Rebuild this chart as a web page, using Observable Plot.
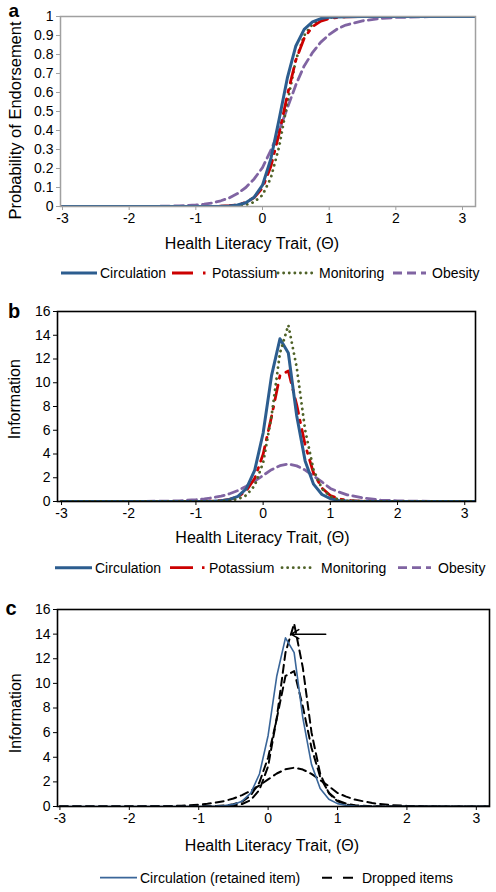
<!DOCTYPE html>
<html><head><meta charset="utf-8">
<script src="https://cdn.jsdelivr.net/npm/d3@7"></script>
<script src="https://cdn.jsdelivr.net/npm/@observablehq/plot@0.6"></script>
<style>
body{margin:0;background:#fff;}
#root{position:relative;width:496px;height:892px;overflow:hidden;background:#fff;}
.pan{position:absolute;left:0;}
#over{position:absolute;left:0;top:0;pointer-events:none;}
</style></head><body><div id="root"></div>
<script>
// ---- data ----
const theta = [-3, -2.5, -2, -1.5, -1.25, -1, -0.875, -0.75, -0.625, -0.5, -0.375, -0.25, -0.125, 0, 0.125, 0.25, 0.375, 0.5, 0.625, 0.75, 0.875, 1, 1.125, 1.25, 1.5, 1.75, 2, 2.5, 3, 3.2];

// Panel a: probability of endorsement
const circulationP = [0, 0, 0, 0, 0, 0.0001, 0.0002, 0.0005, 0.0012, 0.0031, 0.0078, 0.0198, 0.049, 0.112, 0.25, 0.46, 0.68, 0.845, 0.932, 0.972, 0.989, 0.996, 0.998, 0.999, 1, 1, 1, 1, 1, 1];
const potassiumP = [0, 0, 0, 0, 0, 0.0002, 0.0003, 0.0008, 0.0018, 0.0041, 0.0093, 0.0209, 0.047, 0.098, 0.21, 0.385, 0.59, 0.77, 0.885, 0.947, 0.976, 0.989, 0.995, 0.998, 1, 1, 1, 1, 1, 1];
const monitoringP = [0, 0, 0, 0, 0, 0, 0.0001, 0.0002, 0.0005, 0.0013, 0.0034, 0.0089, 0.0232, 0.06, 0.15, 0.315, 0.55, 0.77, 0.9, 0.96, 0.985, 0.994, 0.998, 0.999, 1, 1, 1, 1, 1, 1];
const obesityP = [0, 0, 0.0002, 0.0013, 0.003, 0.008, 0.012, 0.019, 0.03, 0.045, 0.068, 0.10, 0.145, 0.205, 0.295, 0.40, 0.52, 0.64, 0.74, 0.81, 0.865, 0.905, 0.935, 0.955, 0.977, 0.989, 0.995, 0.999, 1, 1];

// Panels b and c: item information
const circulationI = [0, 0, 0, 0, 0.001, 0.004, 0.01, 0.027, 0.068, 0.17, 0.435, 1.09, 2.64, 5.77, 10.6, 13.7, 12.5, 7.2, 3.42, 1.46, 0.59, 0.235, 0.092, 0.036, 0.006, 0.001, 0, 0, 0, 0];
const potassiumI = [0, 0, 0, 0, 0.001, 0.007, 0.015, 0.034, 0.078, 0.18, 0.40, 0.90, 1.96, 3.98, 7.15, 10.6, 11.0, 8.12, 4.77, 2.4, 1.125, 0.504, 0.223, 0.098, 0.019, 0.004, 0.001, 0, 0, 0];
const monitoringI = [0, 0, 0, 0, 0, 0.002, 0.004, 0.011, 0.03, 0.078, 0.204, 0.524, 1.35, 3.27, 7.2, 12.5, 14.85, 11.28, 6.02, 2.67, 1.08, 0.42, 0.162, 0.062, 0.009, 0.001, 0, 0, 0, 0];
const obesityI = [0, 0, 0.004, 0.025, 0.06, 0.15, 0.22, 0.32, 0.45, 0.65, 0.92, 1.28, 1.72, 2.2, 2.68, 3.02, 3.15, 3.0, 2.65, 2.15, 1.65, 1.1, 0.8, 0.56, 0.28, 0.12, 0.05, 0.01, 0, 0];

// ticks
const xTicks = [-3, -2, -1, 0, 1, 2, 3];
const yTicksProb = [0, 0.1, 0.2, 0.3, 0.4, 0.5, 0.6, 0.7, 0.8, 0.9, 1];
const yTicksInfo = [0, 2, 4, 6, 8, 10, 12, 14, 16];

// annotation arrow in panel c (data units)
const arrowC = [{x1: 0.83, y1: 14, x2: 0.33, y2: 14}];

// ---- drawing ----
const FONT = "Liberation Sans, Arial, Helvetica, sans-serif";
const COL = {circ: "#2C5D8F", pot: "#CC0000", mon: "#4F6228", obe: "#8064A2"};
const rows = ys => theta.map((t, i) => ({t, v: ys[i]}));
const fmt = d => String(d);

const styles = {
  circ: {stroke: COL.circ, strokeWidth: 3},
  pot: {stroke: COL.pot, strokeWidth: 2.8, strokeDasharray: "15,7,2.5,7"},
  mon: {stroke: COL.mon, strokeWidth: 2.8, strokeDasharray: "0.1,5.5", strokeLinecap: "round"},
  obe: {stroke: COL.obe, strokeWidth: 2.8, strokeDasharray: "9,5"}
};

function panel({top, height, mt, mb, ml, mr, xdom, ydom, yticks, frame, marks}) {
  const p = Plot.plot({
    width: 496, height,
    marginTop: mt, marginBottom: mb, marginLeft: ml, marginRight: mr,
    style: {fontSize: "14px", fontFamily: FONT, color: "#000", background: "transparent", overflow: "visible"},
    x: {domain: xdom},
    y: {domain: ydom},
    marks: [
      ...marks,
      Plot.frame({stroke: frame.stroke, strokeWidth: frame.width}),
      Plot.axisX(xTicks, {tickSize: 4, tickPadding: 3, tickFormat: fmt, label: null, stroke: frame.stroke, fontSize: 14, fill: "#000"}),
      Plot.axisY(yticks, {tickSize: 4, tickPadding: 3, tickFormat: fmt, label: null, stroke: frame.stroke, fontSize: 14, fill: "#000"})
    ]
  });
  const div = document.createElement("div");
  div.className = "pan";
  div.style.top = top + "px";
  div.appendChild(p);
  document.getElementById("root").appendChild(div);
}

const lineOpts = {x: "t", y: "v", clip: true};

// Panel a
panel({
  top: 0, height: 232, mt: 16, mb: 26, ml: 60, mr: 21,
  xdom: [-3.03, 3.195], ydom: [0, 1], yticks: yTicksProb,
  frame: {stroke: "#A0A0A0", width: 1.5},
  marks: [
    Plot.line(rows(obesityP), {...lineOpts, ...styles.obe}),
    Plot.line(rows(monitoringP), {...lineOpts, ...styles.mon}),
    Plot.line(rows(potassiumP), {...lineOpts, ...styles.pot}),
    Plot.line(rows(circulationP), {...lineOpts, ...styles.circ})
  ]
});

// Panel b
panel({
  top: 290, height: 236, mt: 21, mb: 25, ml: 57, mr: 21,
  xdom: [-3.06, 3.16], ydom: [0, 16], yticks: yTicksInfo,
  frame: {stroke: "#000", width: 1.6},
  marks: [
    Plot.line(rows(obesityI), {...lineOpts, ...styles.obe}),
    Plot.line(rows(potassiumI), {...lineOpts, ...styles.pot}),
    Plot.line(rows(circulationI), {...lineOpts, ...styles.circ}),
    Plot.line(rows(monitoringI), {...lineOpts, ...styles.mon})
  ]
});

// Panel c
const dropped = {stroke: "#000", strokeWidth: 2, strokeDasharray: "8,5"};
panel({
  top: 580, height: 252, mt: 29, mb: 26, ml: 57, mr: 7,
  xdom: [-3.035, 3.19], ydom: [0, 16], yticks: yTicksInfo,
  frame: {stroke: "#000", width: 1.6},
  marks: [
    Plot.line(rows(potassiumI), {...lineOpts, ...dropped}),
    Plot.line(rows(monitoringI), {...lineOpts, ...dropped}),
    Plot.line(rows(obesityI), {...lineOpts, ...dropped}),
    Plot.line(rows(circulationI), {...lineOpts, stroke: "#3A6699", strokeWidth: 1.6}),
    Plot.arrow(arrowC, {x1: "x1", y1: "y1", x2: "x2", y2: "y2", stroke: "#000", strokeWidth: 1.5, headLength: 9})
  ]
});

// ---- titles, panel letters and legends (text overlay) ----
const NS = "http://www.w3.org/2000/svg";
const over = document.createElementNS(NS, "svg");
over.setAttribute("id", "over");
over.setAttribute("width", 496);
over.setAttribute("height", 892);
over.style.fontFamily = FONT;
document.getElementById("root").appendChild(over);
function txt(s, x, y, o = {}) {
  const t = document.createElementNS(NS, "text");
  t.textContent = s;
  t.setAttribute("x", o.rotate ? 0 : x);
  t.setAttribute("y", o.rotate ? 0 : y);
  if (o.rotate) t.setAttribute("transform", `translate(${x},${y}) rotate(-90)`);
  t.setAttribute("font-size", o.size || 14);
  t.setAttribute("text-anchor", o.anchor || "start");
  if (o.bold) t.setAttribute("font-weight", "bold");
  t.setAttribute("fill", "#000");
  over.appendChild(t);
}
function seg(x1, x2, y, st) {
  const l = document.createElementNS(NS, "line");
  l.setAttribute("x1", x1); l.setAttribute("x2", x2);
  l.setAttribute("y1", y); l.setAttribute("y2", y);
  l.setAttribute("stroke", st.stroke);
  l.setAttribute("stroke-width", st.strokeWidth);
  if (st.strokeDasharray) l.setAttribute("stroke-dasharray", st.strokeDasharray);
  if (st.strokeLinecap) l.setAttribute("stroke-linecap", st.strokeLinecap);
  over.appendChild(l);
}
const xTitle = "Health Literacy Trait, (\u0398)";

// panel a
txt("a", 13.8, 16.7, {size: 19, bold: true, anchor: "middle"});
txt("Probability of Endorsement", 20.5, 120.5, {size: 16.5, anchor: "middle", rotate: true});
txt(xTitle, 252, 249.3, {size: 16, anchor: "middle"});
seg(61, 97, 273, styles.circ); txt("Circulation", 100, 278.3);
seg(172, 207, 273, {...styles.pot, strokeDasharray: "21,10,2.5,20"}); txt("Potassium", 212, 278.3);
seg(278, 313, 273, styles.mon); txt("Monitoring", 319, 278.3);
seg(393, 426, 273, styles.obe); txt("Obesity", 432, 278.3);

// panel b
txt("b", 14.2, 318.3, {size: 20, bold: true, anchor: "middle"});
txt("Information", 20.3, 399.2, {size: 16, anchor: "middle", rotate: true});
txt(xTitle, 262.5, 542.7, {size: 16, anchor: "middle"});
seg(55, 92, 567.7, styles.circ); txt("Circulation", 95, 573.3);
seg(170, 205, 567.7, {...styles.pot, strokeDasharray: "23,9,2.5,20"}); txt("Potassium", 209, 573.3);
seg(282, 314, 567.7, styles.mon); txt("Monitoring", 321, 573.3);
seg(398, 431, 567.7, styles.obe); txt("Obesity", 438, 573.3);

// panel c
txt("c", 11, 615, {size: 20, bold: true, anchor: "middle"});
txt("Information", 20.5, 713.3, {size: 16, anchor: "middle", rotate: true});
txt(xTitle, 272, 850.7, {size: 16, anchor: "middle"});
seg(100, 137, 877.7, {stroke: "#3A6699", strokeWidth: 1.8}); txt("Circulation (retained item)", 140, 883.3);
seg(322, 353, 877.7, {stroke: "#000", strokeWidth: 2, strokeDasharray: "10,11"}); txt("Dropped items", 362, 883.3);
</script>
</body></html>
